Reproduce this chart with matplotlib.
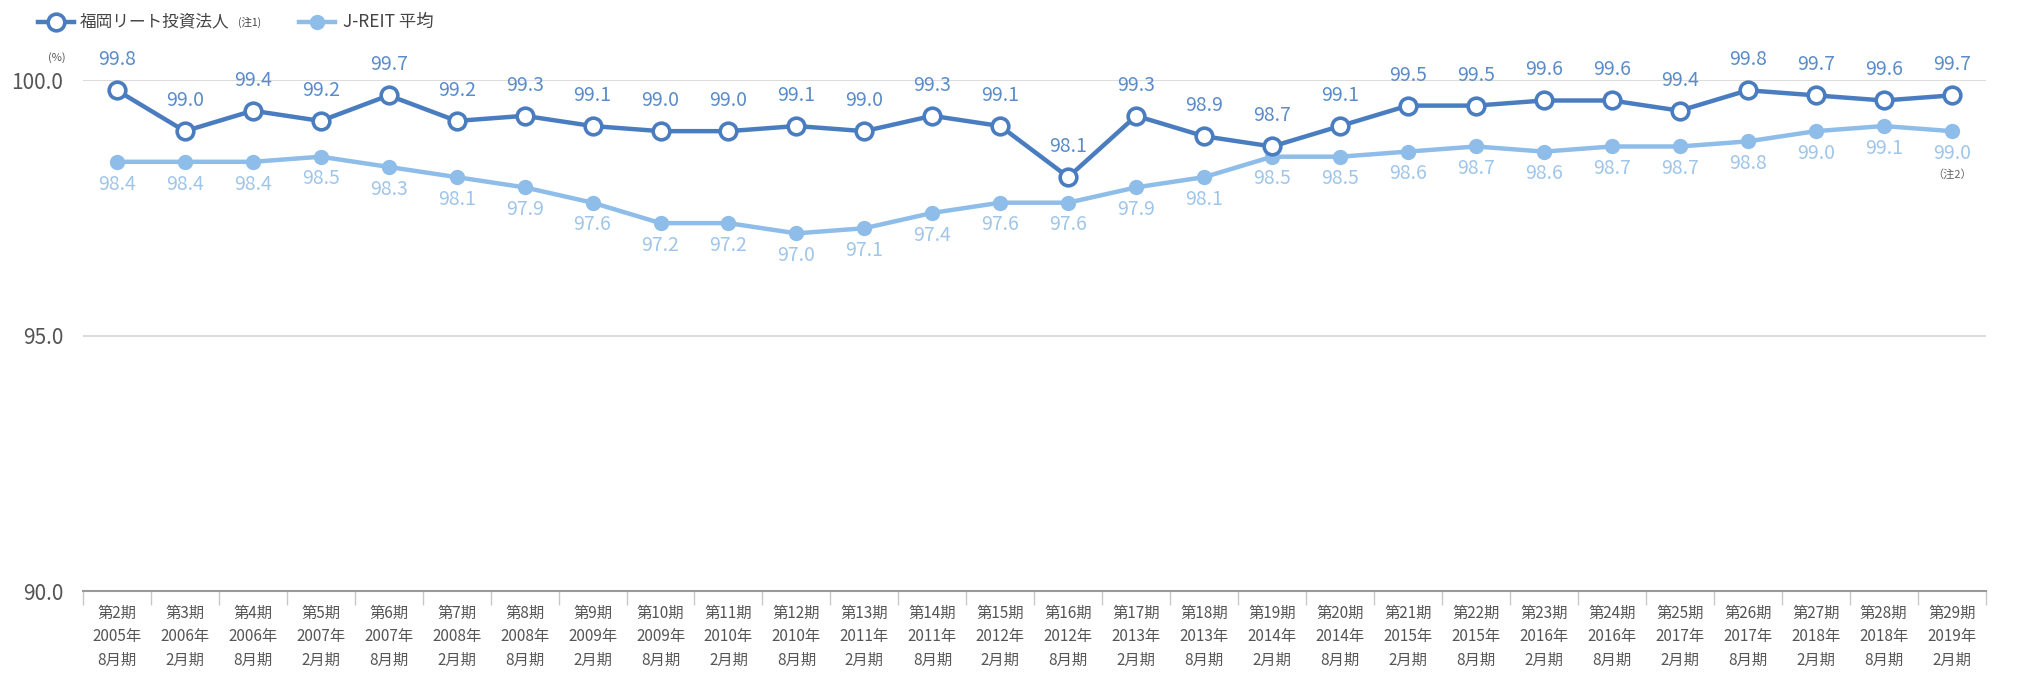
import matplotlib
matplotlib.use("Agg")
import matplotlib.pyplot as plt
from matplotlib.lines import Line2D

plt.rcParams["font.family"] = ["Noto Sans CJK JP", "DejaVu Sans"]

# 決算期ラベル（期 / 年 / 月期）
periods = [f"第{n}期" for n in range(2, 30)]
years = ["2005年", "2006年", "2006年", "2007年", "2007年", "2008年", "2008年",
         "2009年", "2009年", "2010年", "2010年", "2011年", "2011年", "2012年",
         "2012年", "2013年", "2013年", "2014年", "2014年", "2015年", "2015年",
         "2016年", "2016年", "2017年", "2017年", "2018年", "2018年", "2019年"]
months = ["8月期" if i % 2 == 0 else "2月期" for i in range(28)]

# 稼働率 (%)
fukuoka = [99.8, 99.0, 99.4, 99.2, 99.7, 99.2, 99.3, 99.1, 99.0, 99.0, 99.1,
           99.0, 99.3, 99.1, 98.1, 99.3, 98.9, 98.7, 99.1, 99.5, 99.5, 99.6,
           99.6, 99.4, 99.8, 99.7, 99.6, 99.7]
jreit = [98.4, 98.4, 98.4, 98.5, 98.3, 98.1, 97.9, 97.6, 97.2, 97.2, 97.0,
         97.1, 97.4, 97.6, 97.6, 97.9, 98.1, 98.5, 98.5, 98.6, 98.7, 98.6,
         98.7, 98.7, 98.8, 99.0, 99.1, 99.0]

DARK = "#4a7dc0"
LIGHT = "#8dbde8"
DARK_TXT = "#5b8cc8"
LIGHT_TXT = "#9fc6ea"

fig = plt.figure(figsize=(20.22, 6.75), dpi=100)
ax = fig.add_axes([0.041, 0.1244, 0.941, 0.757])

x = list(range(len(periods)))
ax.plot(x, jreit, color=LIGHT, lw=3.2, marker="o", ms=10,
        mfc=LIGHT, mec=LIGHT, zorder=3, clip_on=False)
ax.plot(x, fukuoka, color=DARK, lw=3.2, marker="o", ms=12, mfc="white",
        mec=DARK, mew=2.6, zorder=4, clip_on=False)

for i, v in enumerate(fukuoka):
    ax.annotate(f"{v:.1f}", (i, v), xytext=(0, 22), textcoords="offset points",
                ha="center", va="center", fontsize=14, color=DARK_TXT,
                annotation_clip=False, zorder=5)
for i, v in enumerate(jreit):
    ax.annotate(f"{v:.1f}", (i, v), xytext=(0, -16), textcoords="offset points",
                ha="center", va="center", fontsize=14, color=LIGHT_TXT,
                annotation_clip=False, zorder=5)
ax.annotate("（注2）", (x[-1], jreit[-1]), xytext=(0, -31),
            textcoords="offset points", ha="center", va="center",
            fontsize=8, color="#666666", annotation_clip=False)

ax.set_xlim(-0.5, len(periods) - 0.5)
ax.set_ylim(90, 100)
ax.set_yticks([90, 95, 100])
ax.set_yticklabels(["90.0", "95.0", "100.0"], fontsize=15, color="#555555")
ax.tick_params(axis="y", length=0, pad=14)

ax.set_xticks(x)
ax.set_xticklabels([f"{p}\n{y}\n{m}" for p, y, m in zip(periods, years, months)],
                   fontsize=11, color="#555555", linespacing=1.5)
ax.tick_params(axis="x", length=0, pad=10)
ax.set_xticks([i - 0.5 for i in range(len(periods) + 1)], minor=True)
ax.tick_params(axis="x", which="minor", length=10, color="#c8c8c8", width=1)

for s in ["top", "right", "left"]:
    ax.spines[s].set_visible(False)
ax.spines["bottom"].set_color("#999999")
ax.spines["bottom"].set_linewidth(1.5)
ax.yaxis.grid(True, color="#d6d6d6", lw=1.2)
ax.set_axisbelow(True)

fig.text(0.0235, 0.915, "(%)", fontsize=8, color="#555555", ha="left", va="center")

# 凡例（手描き）
ly = 1 - 22 / 675
fig.add_artist(Line2D([38 / 2022, 74 / 2022], [ly, ly], color=DARK, lw=3.2,
                      transform=fig.transFigure))
fig.add_artist(Line2D([56 / 2022], [ly], color=DARK, marker="o", ms=12, mfc="white",
                      mec=DARK, mew=2.6, transform=fig.transFigure))
fig.text(80 / 2022, ly, "福岡リート投資法人", fontsize=12, color="#444444",
         ha="left", va="center")
fig.text(238 / 2022, ly, "(注1)", fontsize=7.5, color="#444444", ha="left", va="center")
fig.add_artist(Line2D([299 / 2022, 335 / 2022], [ly, ly], color=LIGHT, lw=3.2,
                      transform=fig.transFigure))
fig.add_artist(Line2D([317 / 2022], [ly], color=LIGHT, marker="o", ms=10, mfc=LIGHT,
                      mec=LIGHT, transform=fig.transFigure))
fig.text(343 / 2022, ly, "J-REIT 平均", fontsize=12.5, color="#444444",
         ha="left", va="center")

fig.savefig("out.png", dpi=100)
